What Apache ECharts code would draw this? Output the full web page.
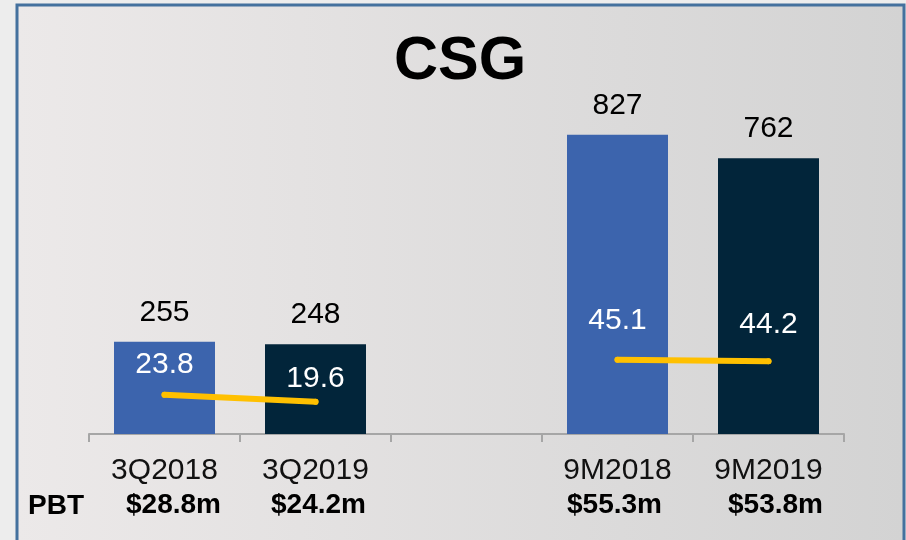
<!DOCTYPE html>
<html>
<head>
<meta charset="utf-8">
<script src="https://cdn.jsdelivr.net/npm/echarts@6/dist/echarts.min.js"></script>
<style>
  html, body { margin: 0; padding: 0; background: #ededed; }
  #chart { width: 906px; height: 540px; }
</style>
</head>
<body>
<div id="chart"></div>
<script>
// categories (blank slot keeps the gap between quarter and nine-month groups)
const categories = ['3Q2018', '3Q2019', '', '9M2018', '9M2019'];
const volumes = [255, 248, null, 827, 762];
const margins = [23.8, 19.6, null, 45.1, 44.2];
const pbt = ['$28.8m', '$24.2m', '', '$55.3m', '$53.8m'];

const barColors = ['#3c64ad', '#02253a', '#3c64ad', '#3c64ad', '#02253a'];
const font = 'Liberation Sans, Arial, sans-serif';

const chart = echarts.init(document.getElementById('chart'));

// label gap above the yellow line, per point
const gaps = [12, 5, 0, 21, 19];
// small horizontal nudges of the PBT row
const pbtShift = [18, 6, 0, -6, 14];

const rich = {
  a: { fontSize: 30, lineHeight: 34, color: '#111', fontFamily: font }
};
pbtShift.forEach((s, i) => {
  rich['b' + i] = {
    fontSize: 28, lineHeight: 34, color: '#000', fontWeight: 'bold', fontFamily: font,
    padding: s >= 0 ? [0, 0, 0, s] : [0, -s, 0, 0]
  };
});

chart.setOption({
  animation: false,
  textStyle: { fontFamily: font },
  graphic: [
    {
      type: 'rect', z: -10,
      shape: { x: 17, y: 5, width: 887, height: 560 },
      style: {
        fill: new echarts.graphic.LinearGradient(0, 0, 1, 0, [
          { offset: 0, color: '#ece9e9' },
          { offset: 1, color: '#d3d3d3' }
        ]),
        stroke: '#44719e', lineWidth: 3
      }
    },
    {
      type: 'text', x: 460, y: 62, z: 10,
      style: { text: 'CSG', font: 'bold 61px ' + font, fill: '#000', align: 'center', verticalAlign: 'middle' }
    },
    {
      type: 'text', x: 28, y: 506, z: 10,
      style: { text: 'PBT', font: 'bold 28px ' + font, fill: '#000', align: 'left', verticalAlign: 'middle' }
    }
  ],
  grid: { left: 89, right: 62, top: 72, bottom: 106 },
  xAxis: {
    type: 'category',
    data: categories,
    boundaryGap: true,
    axisLine: { lineStyle: { color: '#a6a6a6', width: 2 } },
    axisTick: { show: true, length: 8, interval: 0, lineStyle: { color: '#a6a6a6', width: 2 } },
    axisLabel: {
      interval: 0,
      margin: 20,
      formatter: function (v, i) {
        return '{a|' + v + '}\n{b' + i + '|' + pbt[i] + '}';
      },
      rich: rich
    }
  },
  yAxis: [
    { type: 'value', min: 0, max: 1000, show: false, splitLine: { show: false } },
    { type: 'value', min: 0, max: 220, show: false, splitLine: { show: false } }
  ],
  series: [
    {
      type: 'bar',
      barWidth: 101,
      data: volumes.map((v, i) => ({ value: v, itemStyle: { color: barColors[i] } })),
      label: {
        show: true, position: 'top', distance: 14,
        fontSize: 30, color: '#000', fontFamily: font
      }
    },
    {
      type: 'line',
      yAxisIndex: 1,
      connectNulls: false,
      symbol: 'circle',
      symbolSize: 6,
      itemStyle: { color: '#ffc000' },
      lineStyle: { color: '#ffc000', width: 6, cap: 'round' },
      data: margins.map((v, i) => ({
        value: v,
        label: { distance: gaps[i] }
      })),
      label: {
        show: true, position: 'top',
        fontSize: 30, color: '#fff', fontFamily: font,
        formatter: p => p.value.toFixed(1)
      },
      z: 5
    }
  ]
});
</script>
</body>
</html>
